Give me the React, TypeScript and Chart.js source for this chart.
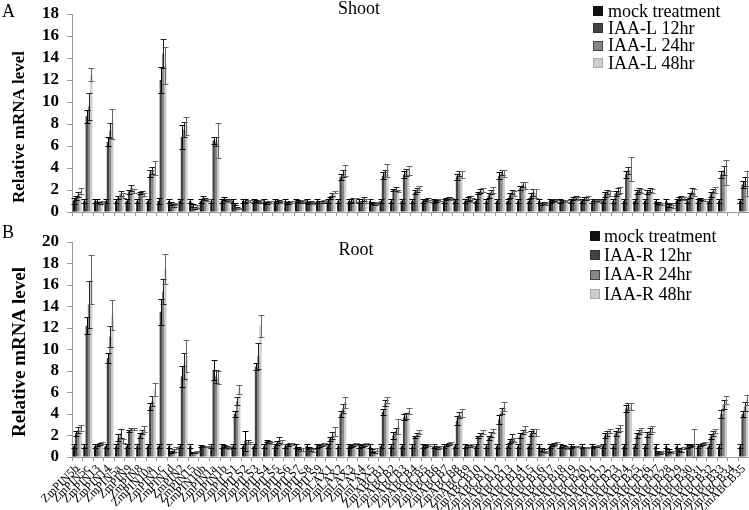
import React, { useEffect, useRef } from 'react';
import { Chart, registerables } from 'chart.js';

Chart.register(...registerables);

// ---------------- categories ----------------
const genes = [
  'ZmPIN5b', 'ZmPIN5c', 'ZmPIN13', 'ZmPIN14', 'ZmPIN5a', 'ZmPIN9', 'ZmPIN8', 'ZmPIN10a',
  'ZmPIN1c', 'ZmPIN1d', 'ZmPIN2', 'ZmPIN15', 'ZmPIN10b', 'ZmPIN1a', 'ZmPIN1b', 'ZmPILS1',
  'ZmPILS2', 'ZmPILS3', 'ZmPILS4', 'ZmPILS5', 'ZmPILS6', 'ZmPILS7', 'ZmPILS8', 'ZmPILS9',
  'ZmLAX1', 'ZmLAX2', 'ZmLAX3', 'ZmLAX4', 'ZmLAX5', 'ZmABCB1', 'ZmABCB2', 'ZmABCB3',
  'ZmABCB4', 'ZmABCB5', 'ZmABCB6', 'ZmABCB7', 'ZmABCB8', 'ZmABCB9', 'ZmABCB10', 'ZmABCB11',
  'ZmABCB12', 'ZmABCB13', 'ZmABCB14', 'ZmABCB15', 'ZmABCB16', 'ZmABCB17', 'ZmABCB18', 'ZmABCB19',
  'ZmABCB20', 'ZmABCB21', 'ZmABCB22', 'ZmABCB23', 'ZmABCB24', 'ZmABCB25', 'ZmABCB26', 'ZmABCB27',
  'ZmABCB28', 'ZmABCB29', 'ZmABCB30', 'ZmABCB31', 'ZmABCB32', 'ZmABCB33', 'ZmABCB34', 'ZmABCB35',
];

const shootSeries = ['mock treatment', 'IAA-L 12hr', 'IAA-L 24hr', 'IAA-L 48hr'];
const rootSeries = ['mock treatment', 'IAA-R 12hr', 'IAA-R 24hr', 'IAA-R 48hr'];

const shootYMax = 18;
const rootYMax = 20;
const yStep = 2;

// ---------------- Shoot (A) ----------------
const shootMock = [
  1, 1, 1, 1, 1, 1, 1, 1,
  1, 1, 1, 1, 1, 1, 1, 1,
  1, 1, 1, 1, 1, 1, 1, 1,
  1, 1, 1, 1, 1, 1, 1, 1,
  1, 1, 1, 1, 1, 1, 1, 1,
  1, 1, 1, 1, 1, 1, 1, 1,
  1, 1, 1, 1, 1, 1, 1, 1,
  1, 1, 1, 1, 1, 1, null, 1,
];
const shootMockErr = [
  0.3, 0.2, 0.2, 0.2, 0.2, 0.2, 0.2, 0.2,
  0.3, 0.2, 0.2, 0.2, 0.2, 0.2, 0.2, 0.2,
  0.2, 0.2, 0.2, 0.2, 0.2, 0.2, 0.2, 0.2,
  0.2, 0.2, 0.2, 0.2, 0.2, 0.2, 0.2, 0.2,
  0.2, 0.2, 0.2, 0.2, 0.2, 0.2, 0.2, 0.2,
  0.2, 0.2, 0.2, 0.2, 0.2, 0.2, 0.2, 0.2,
  0.2, 0.2, 0.2, 0.2, 0.2, 0.2, 0.2, 0.2,
  0.2, 0.2, 0.2, 0.2, 0.2, 0.2, null, 0.2,
];
const shoot12 = [
  1.3, 8.7, 1.0, 6.4, 1.3, 1.8, 1.7, 3.5,
  12.0, 0.8, 6.8, 0.6, 1.3, 6.5, 1.2, 0.7,
  1.0, 1.0, 0.8, 0.9, 0.8, 1.0, 0.8, 0.9,
  1.3, 3.2, 1.0, 1.0, 0.8, 3.3, 2.0, 3.4,
  1.8, 1.1, 1.0, 1.2, 3.2, 1.2, 1.7, 1.5,
  3.3, 1.5, 2.2, 1.5, 0.7, 1.0, 1.0, 1.2,
  1.2, 1.1, 1.6, 1.7, 3.4, 1.8, 1.8, 0.8,
  0.6, 1.2, 1.5, 1.2, 1.6, 3.4, null, 2.5,
];
const shoot12Err = [
  0.2, 0.6, 0.15, 0.4, 0.15, 0.2, 0.1, 0.3,
  1.2, 0.15, 1.1, 0.1, 0.15, 0.3, 0.15, 0.1,
  0.15, 0.1, 0.1, 0.1, 0.1, 0.1, 0.1, 0.1,
  0.1, 0.3, 0.2, 0.2, 0.1, 0.3, 0.1, 0.3,
  0.2, 0.1, 0.1, 0.1, 0.3, 0.2, 0.1, 0.2,
  0.3, 0.2, 0.2, 0.2, 0.1, 0.1, 0.1, 0.15,
  0.15, 0.1, 0.2, 0.2, 0.3, 0.2, 0.2, 0.1,
  0.1, 0.15, 0.2, 0.1, 0.2, 0.3, null, 0.3,
];
const shoot24 = [
  1.6, 9.6, 0.8, 7.4, 1.7, 2.2, 1.8, 3.8,
  14.4, 0.6, 7.5, 0.4, 1.2, 6.4, 1.1, 0.4,
  1.0, 0.9, 0.9, 1.0, 0.9, 0.9, 0.9, 0.9,
  1.6, 3.5, 1.1, 1.2, 0.7, 3.5, 2.1, 3.6,
  2.0, 1.2, 1.1, 1.3, 3.5, 1.3, 1.9, 1.8,
  3.6, 1.8, 2.5, 1.8, 0.8, 1.1, 1.0, 1.3,
  1.2, 1.1, 1.8, 1.9, 3.8, 2.0, 2.0, 0.7,
  0.7, 1.3, 1.9, 1.1, 1.9, 3.8, null, 2.8,
];
const shoot24Err = [
  0.2, 1.2, 0.1, 0.7, 0.2, 0.3, 0.1, 0.3,
  1.3, 0.1, 0.7, 0.1, 0.1, 0.4, 0.1, 0.05,
  0.1, 0.1, 0.1, 0.1, 0.1, 0.1, 0.1, 0.1,
  0.1, 0.3, 0.2, 0.2, 0.1, 0.3, 0.2, 0.3,
  0.2, 0.1, 0.1, 0.1, 0.2, 0.2, 0.2, 0.2,
  0.2, 0.2, 0.2, 0.3, 0.1, 0.1, 0.1, 0.15,
  0.15, 0.1, 0.2, 0.3, 0.3, 0.2, 0.2, 0.1,
  0.1, 0.15, 0.3, 0.1, 0.2, 0.4, null, 0.4,
];
const shoot48 = [
  1.9, 12.5, 0.9, 8.0, 1.5, 1.9, 1.6, 4.0,
  13.3, 0.7, 7.8, 0.5, 1.1, 6.5, 1.0, 0.3,
  1.0, 1.0, 0.9, 0.9, 0.9, 1.0, 0.8, 1.0,
  1.8, 3.8, 1.1, 1.0, 0.8, 3.8, 1.9, 3.8,
  2.2, 1.0, 1.1, 1.2, 3.4, 1.1, 2.0, 2.0,
  3.5, 1.7, 2.4, 1.7, 0.7, 1.0, 1.0, 1.2,
  1.3, 1.0, 1.7, 2.0, 3.9, 1.9, 1.9, 0.7,
  0.5, 1.2, 1.8, 1.1, 2.0, 3.6, null, 2.6,
];
const shoot48Err = [
  0.3, 0.6, 0.1, 1.4, 0.2, 0.2, 0.1, 0.6,
  1.7, 0.1, 0.8, 0.1, 0.1, 1.6, 0.1, 0.05,
  0.1, 0.1, 0.1, 0.1, 0.1, 0.1, 0.1, 0.1,
  0.1, 0.5, 0.2, 0.2, 0.1, 0.6, 0.1, 0.4,
  0.2, 0.1, 0.1, 0.1, 0.3, 0.2, 0.2, 0.3,
  0.3, 0.2, 0.3, 0.4, 0.1, 0.1, 0.1, 0.15,
  0.15, 0.1, 0.2, 0.3, 1.1, 0.2, 0.2, 0.1,
  0.1, 0.15, 0.3, 0.1, 0.3, 1.1, null, 1.1,
];

// ---------------- Root (B) ----------------
const rootMock = [
  1, 1, 1, 1, 1, 1, 1, 1,
  1, 1, 1, 1, 1, 1, 1, 1,
  1, 1, 1, 1, 1, 1, 1, 1,
  1, 1, 1, 1, 1, 1, 1, 1,
  1, 1, 1, 1, 1, 1, 1, 1,
  1, 1, 1, 1, 1, 1, 1, 1,
  1, 1, 1, 1, 1, 1, 1, 1,
  1, 1, 1, 1, 1, 1, null, 1,
];
const rootMockErr = [
  0.2, 0.2, 0.2, 0.2, 0.2, 0.2, 0.2, 0.2,
  0.2, 0.2, 0.2, 0.2, 0.1, 0.2, 0.2, 0.2,
  0.2, 0.2, 0.2, 0.2, 0.2, 0.2, 0.2, 0.2,
  0.2, 0.2, 0.2, 0.2, 0.2, 0.2, 0.2, 0.2,
  0.2, 0.2, 0.2, 0.2, 0.2, 0.2, 0.2, 0.2,
  0.2, 0.2, 0.2, 0.2, 0.2, 0.2, 0.2, 0.2,
  0.2, 0.2, 0.2, 0.2, 0.2, 0.2, 0.2, 0.2,
  0.2, 0.2, 0.2, 0.2, 0.2, 0.2, null, 0.2,
];
const root12 = [
  2.2, 12.2, 1.1, 9.2, 1.8, 2.4, 2.0, 4.7,
  13.5, 0.5, 7.5, 0.4, 1.0, 8.1, 1.0, 4.0,
  1.5, 8.4, 1.5, 1.3, 1.1, 0.8, 0.8, 1.0,
  1.7, 4.0, 1.0, 1.0, 0.6, 4.2, 2.0, 3.7,
  1.9, 1.0, 0.9, 1.1, 3.4, 1.0, 1.9, 1.8,
  3.5, 1.5, 2.0, 2.2, 0.7, 1.1, 1.0, 1.0,
  0.9, 1.0, 2.0, 2.2, 4.5, 2.0, 2.1, 0.5,
  0.6, 0.7, 1.0, 1.1, 1.9, 4.0, null, 4.0,
];
const root12Err = [
  0.2, 0.8, 0.1, 0.5, 0.3, 0.1, 0.2, 0.3,
  1.2, 0.1, 1.0, 0.05, 0.05, 0.9, 0.1, 0.3,
  0.9, 0.3, 0.1, 0.2, 0.1, 0.1, 0.1, 0.1,
  0.2, 0.3, 0.1, 0.1, 0.1, 0.3, 0.3, 0.3,
  0.1, 0.1, 0.1, 0.1, 0.4, 0.1, 0.1, 0.2,
  0.4, 0.2, 0.2, 0.2, 0.1, 0.1, 0.1, 0.05,
  0.05, 0.05, 0.2, 0.2, 0.3, 0.2, 0.2, 0.1,
  0.1, 0.1, 0.1, 0.1, 0.2, 0.4, null, 0.3,
];
const root24 = [
  2.5, 14.2, 1.2, 11.2, 2.2, 2.6, 2.3, 5.2,
  15.4, 0.6, 8.5, 0.4, 1.0, 7.5, 0.9, 5.2,
  1.4, 9.4, 1.4, 1.6, 1.2, 0.7, 0.7, 1.1,
  2.0, 4.5, 1.1, 1.1, 0.5, 5.0, 2.4, 3.8,
  2.1, 1.1, 0.8, 1.2, 3.9, 1.0, 2.1, 2.1,
  4.3, 1.8, 2.3, 2.4, 0.6, 1.2, 0.9, 1.0,
  0.9, 1.0, 2.2, 2.5, 4.7, 2.3, 2.4, 0.4,
  0.5, 0.6, 1.1, 1.2, 2.2, 4.9, null, 4.7,
];
const root24Err = [
  0.3, 2.2, 0.1, 1.0, 0.4, 0.1, 0.2, 0.5,
  1.2, 0.1, 1.2, 0.05, 0.05, 0.6, 0.1, 0.4,
  0.2, 1.2, 0.1, 0.3, 0.1, 0.1, 0.1, 0.1,
  0.3, 0.4, 0.1, 0.1, 0.1, 0.3, 0.3, 0.3,
  0.1, 0.1, 0.1, 0.1, 0.3, 0.1, 0.1, 0.2,
  0.3, 0.3, 0.2, 0.2, 0.1, 0.1, 0.1, 0.05,
  0.05, 0.05, 0.2, 0.2, 0.3, 0.2, 0.3, 0.1,
  0.1, 0.1, 0.1, 0.1, 0.2, 0.4, null, 0.4,
];
const root48 = [
  2.7, 16.5, 1.3, 13.2, 1.5, 2.6, 2.6, 6.3,
  17.5, 0.8, 9.4, 0.5, 1.0, 7.4, 0.8, 6.3,
  1.3, 12.2, 1.3, 1.4, 1.2, 0.7, 0.6, 1.2,
  2.4, 5.1, 1.2, 1.2, 0.7, 5.3, 2.8, 4.3,
  2.3, 1.1, 0.9, 1.3, 4.1, 1.1, 2.3, 2.4,
  4.7, 1.6, 2.6, 2.3, 0.5, 1.3, 0.8, 1.0,
  0.9, 1.1, 2.4, 2.7, 4.7, 2.5, 2.6, 0.5,
  0.5, 0.8, 1.2, 1.3, 2.4, 5.3, null, 5.3,
];
const root48Err = [
  0.3, 2.3, 0.1, 1.4, 0.2, 0.1, 0.3, 0.6,
  1.4, 0.1, 1.5, 0.05, 0.05, 0.6, 0.1, 0.4,
  0.1, 1.0, 0.1, 0.2, 0.1, 0.1, 0.1, 0.1,
  0.4, 0.5, 0.1, 0.1, 0.1, 0.3, 0.7, 0.3,
  0.2, 0.1, 0.1, 0.1, 0.4, 0.1, 0.2, 0.2,
  0.4, 0.2, 0.3, 0.3, 0.1, 0.1, 0.1, 0.05,
  0.05, 0.05, 0.2, 0.3, 0.3, 0.2, 0.3, 0.1,
  0.1, 0.1, 1.4, 0.1, 0.2, 0.4, null, 0.5,
];

// ---------------- styling ----------------
const barColors = ['#111111', '#434343', '#878787', '#cdcdcd'];
const errColors = ['#000000', '#000000', '#222222', '#666666'];
const legendBorders = [null, '#333333', '#444444', '#aaaaaa'];
const SERIF = '"Liberation Serif", "Times New Roman", serif';

const errorBarPlugin = {
  id: 'errorBars',
  afterDatasetsDraw(chart: any) {
    const ctx = chart.ctx;
    const yScale = chart.scales.y;
    chart.data.datasets.forEach((ds: any, k: number) => {
      const meta = chart.getDatasetMeta(k);
      ctx.save();
      ctx.strokeStyle = errColors[k];
      ctx.lineWidth = 1;
      meta.data.forEach((bar: any, i: number) => {
        const v = ds.data[i];
        const e = ds.errors[i];
        if (v == null || e == null) return;
        const x = Math.round(bar.x) + 0.5;
        const yt = Math.round(yScale.getPixelForValue(v + e)) + 0.5;
        const yb = Math.round(yScale.getPixelForValue(Math.max(0, v - e))) + 0.5;
        ctx.beginPath();
        ctx.moveTo(x, yb);
        ctx.lineTo(x, yt);
        ctx.moveTo(x - 3, yt);
        ctx.lineTo(x + 3, yt);
        ctx.moveTo(x - 3, yb);
        ctx.lineTo(x + 3, yb);
        ctx.stroke();
      });
      ctx.restore();
    });
  },
};

const overlayPlugin = {
  id: 'overlay',
  afterDraw(chart: any, _args: any, o: any) {
    const ctx = chart.ctx;
    ctx.save();
    ctx.fillStyle = '#000';
    ctx.textBaseline = 'middle';
    ctx.font = `18px ${SERIF}`;
    ctx.textAlign = 'left';
    ctx.fillText(o.letter, o.letterX, o.letterY);
    ctx.textAlign = 'center';
    ctx.fillText(o.title, o.titleX, o.titleY);
    // axis title
    ctx.save();
    ctx.translate(o.axisX, o.axisY);
    ctx.rotate(-Math.PI / 2);
    ctx.font = `bold ${o.axisSize}px ${SERIF}`;
    ctx.textAlign = 'center';
    ctx.fillText(o.axisTitle, 0, 0);
    ctx.restore();
    // legend
    chart.data.datasets.forEach((ds: any, k: number) => {
      const y = o.legendY + k * o.legendGap;
      ctx.fillStyle = barColors[k];
      ctx.fillRect(o.legendX, Math.round(y - 5), 10, 10);
      if (legendBorders[k]) {
        ctx.strokeStyle = legendBorders[k];
        ctx.lineWidth = 1;
        ctx.strokeRect(o.legendX + 0.5, Math.round(y - 5) + 0.5, 9, 9);
      }
      ctx.fillStyle = '#000';
      ctx.textAlign = 'left';
      ctx.font = `18px ${SERIF}`;
      ctx.fillText(ds.label, o.legendX + o.legendTextGap, y + 1);
    });
    ctx.restore();
  },
};

type PanelProps = {
  top: number;
  height: number;
  padTop: number;
  xHeight: number;
  yMax: number;
  tickSize: number;
  showLabels: boolean;
  series: string[];
  values: (number | null)[][];
  errors: (number | null)[][];
  overlay: any;
};

function Panel(p: PanelProps) {
  const ref = useRef<HTMLCanvasElement | null>(null);
  useEffect(() => {
    if (!ref.current) return;
    const chart = new Chart(ref.current, {
      type: 'bar',
      data: {
        labels: genes,
        datasets: p.series.map((s, k) => ({
          label: s,
          data: p.values[k],
          errors: p.errors[k],
          backgroundColor: barColors[k],
          borderWidth: 0,
          categoryPercentage: 0.86,
          barPercentage: 1,
        })) as any,
      },
      options: {
        responsive: false,
        animation: false,
        devicePixelRatio: 1,
        layout: { padding: { top: p.padTop, left: 0, right: 0, bottom: 0 } },
        plugins: {
          legend: { display: false },
          tooltip: { enabled: false },
          overlay: p.overlay,
        } as any,
        scales: {
          x: {
            grid: { display: true, drawOnChartArea: false, drawTicks: true, tickLength: 4, color: '#9a9a9a', offset: true },
            border: { display: true, color: '#9a9a9a' },
            ticks: {
              display: p.showLabels,
              autoSkip: false,
              minRotation: 45,
              maxRotation: 45,
              padding: 1,
              color: '#000',
              font: { family: SERIF, size: 12 },
            },
            afterFit: (s: any) => {
              s.height = p.xHeight;
              s.paddingLeft = 0;
              s.paddingRight = 0;
            },
          },
          y: {
            min: 0,
            max: p.yMax,
            ticks: {
              stepSize: yStep,
              autoSkip: false,
              padding: 8,
              color: '#000',
              font: { family: SERIF, size: p.tickSize, weight: 'bold' },
            },
            grid: { display: true, drawOnChartArea: false, drawTicks: true, tickLength: 5, color: '#9a9a9a' },
            border: { display: true, color: '#9a9a9a' },
            afterFit: (s: any) => {
              s.width = 72;
              s.paddingTop = 0;
              s.paddingBottom = 0;
            },
          },
        } as any,
      },
      plugins: [errorBarPlugin, overlayPlugin],
    });
    return () => chart.destroy();
  }, []);
  return (
    <canvas
      ref={ref}
      width={749}
      height={p.height}
      style={{ position: 'absolute', left: 0, top: p.top, width: 749, height: p.height }}
    />
  );
}

export default function App() {
  return (
    <div style={{ position: 'absolute', left: 0, top: 0, width: 749, height: 510, background: '#fff', overflow: 'hidden' }}>
      <Panel
        top={0}
        height={220}
        padTop={14}
        xHeight={8}
        yMax={shootYMax}
        tickSize={17}
        showLabels={false}
        series={shootSeries}
        values={[shootMock, shoot12, shoot24, shoot48]}
        errors={[shootMockErr, shoot12Err, shoot24Err, shoot48Err]}
        overlay={{
          letter: 'A', letterX: 2, letterY: 12,
          title: 'Shoot', titleX: 359, titleY: 9,
          axisTitle: 'Relative mRNA level', axisX: 20, axisY: 127, axisSize: 17,
          legendX: 593, legendY: 11, legendGap: 17.3, legendTextGap: 15,
        }}
      />
      <Panel
        top={220}
        height={290}
        padTop={22}
        xHeight={53}
        yMax={rootYMax}
        tickSize={17}
        showLabels={true}
        series={rootSeries}
        values={[rootMock, root12, root24, root48]}
        errors={[rootMockErr, root12Err, root24Err, root48Err]}
        overlay={{
          letter: 'B', letterX: 2, letterY: 13,
          title: 'Root', titleX: 356, titleY: 30,
          axisTitle: 'Relative mRNA level', axisX: 20, axisY: 132, axisSize: 19,
          legendX: 590, legendY: 16, legendGap: 19.3, legendTextGap: 14,
        }}
      />
    </div>
  );
}
